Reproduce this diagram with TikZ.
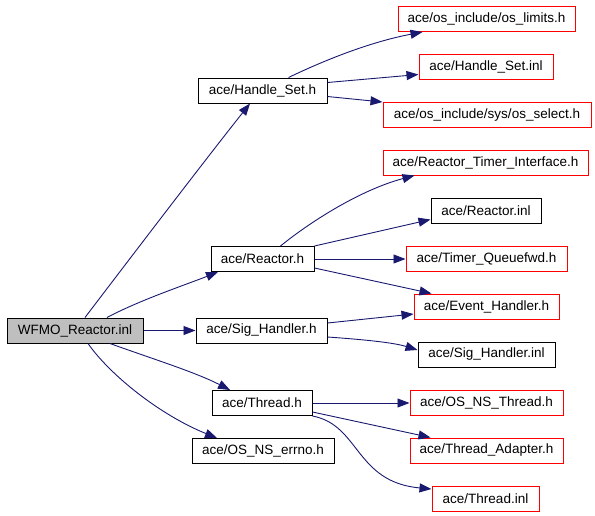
\documentclass[tikz,border=0pt]{standalone}
\usepackage{fontspec}
\setmainfont{Liberation Sans}
\usetikzlibrary{arrows.meta}
\definecolor{edgeblue}{HTML}{191970}
\definecolor{rootgray}{HTML}{BFBFBF}
\tikzset{
  file/.style={draw=black, line width=1pt, minimum height=25pt, inner sep=0pt,
    font=\fontsize{13.5}{16}\selectfont},
  missing/.style={file, draw=red},
  dep/.style={draw=edgeblue, line width=0.9pt,
    -{Triangle[length=12pt,width=9pt]}, shorten >=0pt}
}
\begin{document}
\begin{tikzpicture}[x=1pt,y=-1pt]
\useasboundingbox (0,0) rectangle (595,515);
% Root file
\node[file, fill=rootgray, minimum width=136pt] (wfmo) at (75,330.5) {WFMO\_Reactor.inl};
% Direct includes
\node[file, minimum width=129pt] (hset) at (262.5,90.5) {ace/Handle\_Set.h};
\node[file, minimum width=103pt] (reactor) at (262.5,259) {ace/Reactor.h};
\node[file, minimum width=131pt] (sig) at (261.5,330.5) {ace/Sig\_Handler.h};
\node[file, minimum width=100pt] (thread) at (262,403) {ace/Thread.h};
\node[file, minimum width=142pt] (errno) at (263,451) {ace/OS\_NS\_errno.h};
% Second level
\node[missing, minimum width=177pt] (limits) at (486.5,19) {ace/os\_include/os\_limits.h};
\node[missing, minimum width=134pt] (hinl) at (486,66.5) {ace/Handle\_Set.inl};
\node[missing, minimum width=208pt] (select) at (487,115) {ace/os\_include/sys/os\_select.h};
\node[missing, minimum width=205pt] (rti) at (485.5,162.5) {ace/Reactor\_Timer\_Interface.h};
\node[file, minimum width=110pt] (rinl) at (486,210.5) {ace/Reactor.inl};
\node[missing, minimum width=161pt] (tq) at (486.5,259) {ace/Timer\_Queuefwd.h};
\node[missing, minimum width=145pt] (eh) at (486.5,306.5) {ace/Event\_Handler.h};
\node[file, minimum width=137pt] (sinl) at (486.5,354.5) {ace/Sig\_Handler.inl};
\node[missing, minimum width=153pt] (ost) at (486.5,403) {ace/OS\_NS\_Thread.h};
\node[missing, minimum width=153pt] (tad) at (486.5,450.5) {ace/Thread\_Adapter.h};
\node[missing, minimum width=107pt] (tinl) at (485.5,498.5) {ace/Thread.inl};
% Edges from the root
\draw[dep] ([xshift=10pt]wfmo.north) .. controls (125,265) and (205,160) .. ([xshift=-12.5pt]hset.south);
\draw[dep] ([xshift=32pt]wfmo.north) .. controls (140,300) and (185,285) .. ([xshift=-44.5pt]reactor.south);
\draw[dep] (wfmo.east) -- (sig.west);
\draw[dep] ([xshift=35pt]wfmo.south) .. controls (150,358) and (195,372) .. ([xshift=-32pt]thread.north);
\draw[dep] ([xshift=13pt]wfmo.south) .. controls (110,375) and (160,415) .. ([xshift=-46pt]errno.north);
% Handle_Set.h includes
\draw[dep] ([xshift=26pt]hset.north) .. controls (325,60) and (370,42) .. ([xshift=-64pt]limits.south);
\draw[dep] ([yshift=8pt]hset.east) -- ([yshift=-8pt]hinl.west);
\draw[dep] ([yshift=-6pt]hset.east) -- (select.north west);
% Reactor.h includes
\draw[dep] ([xshift=18pt]reactor.north) .. controls (310,222) and (360,190) .. ([xshift=-71pt]rti.south);
\draw[dep] (reactor.north east) -- ([yshift=-9pt]rinl.west);
\draw[dep] (reactor.east) -- (tq.west);
\draw[dep] ([yshift=-9pt]reactor.east) -- ([xshift=-55pt]eh.north);
% Sig_Handler.h includes
\draw[dep] ([yshift=7.5pt]sig.east) -- ([yshift=-7.5pt]eh.west);
\draw[dep] ([yshift=-6.5pt]sig.east) .. controls (370,340) and (395,343) .. ([yshift=4.5pt]sinl.west);
% Thread.h includes
\draw[dep] (thread.east) -- (ost.west);
\draw[dep] ([yshift=-9pt]thread.east) -- ([xshift=-56pt]tad.north);
\draw[dep] ([yshift=-13pt]thread.east) .. controls (360,425) and (355,482) .. ([yshift=9.5pt]tinl.west);
\end{tikzpicture}
\end{document}
